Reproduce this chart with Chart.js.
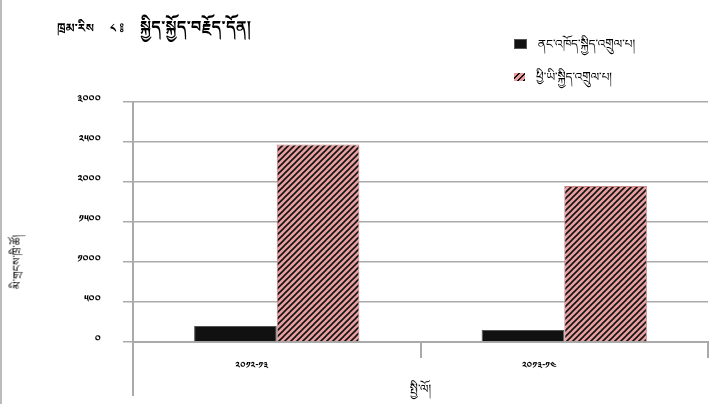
<!DOCTYPE html>
<html>
<head>
    <title>Tibetan Bar Chart</title>
    <style>
        body {
            margin: 0;
            background-color: white;
            font-family: "Noto Serif Tibetan", "Noto Sans Tibetan", "Jomolhari", "DejaVu Sans", "Noto Sans", sans-serif;
        }
        .wrap {
            position: relative;
            width: 726px;
            height: 404px;
            border-left: 2px solid #bbb;
            box-sizing: border-box;
        }
        .title {
            position: absolute;
            left: 55px;
            top: 9px;
            font-size: 16px;
            font-weight: bold;
            color: #000;
            white-space: nowrap;
        }
        .title .small { font-size: 12px; margin-right: 16px; }
        .legend {
            position: absolute;
            left: 512px;
            top: 30px;
            font-size: 12px;
            color: #000;
        }
        .legend div { height: 33px; white-space: nowrap; }
        .legend span.box {
            display: inline-block;
            width: 11px;
            height: 8px;
            margin-right: 11px;
            vertical-align: middle;
        }
        .ytitle {
            position: absolute;
            left: 18px;
            top: 262px;
            font-size: 11px;
            transform: translate(-50%, -50%) rotate(-90deg);
            white-space: nowrap;
        }
    </style>
    <script src="https://cdn.jsdelivr.net/npm/chart.js@4/dist/chart.umd.min.js"></script>
</head>
<body>
    <div class="wrap">
        <canvas id="chart" width="724" height="404"></canvas>
        <div class="title"><span class="small">ཁྲམ་རིས</span><span class="small">༨ ༔</span>སྐྱིད་སྐྱོད་བརྗོད་དོན།</div>
        <div class="legend" id="legend"></div>
        <div class="ytitle" id="ytitle"></div>
    </div>

    <script>
        // data
        const categories = ['༢༠༡༢-༡༣', '༢༠༡༣-༡༤'];
        const seriesNames = ['ནང་འཁོད་སྐྱིད་འགྲུལ་པ།', 'ཕྱི་ཡི་སྐྱིད་འགྲུལ་པ།'];
        const domestic = [200, 150];
        const foreign = [2470, 1950];
        const yTickLabels = ['༠', '༥༠༠', '༡༠༠༠', '༡༥༠༠', '༢༠༠༠', '༢༥༠༠', '༣༠༠༠'];
        const xTitle = 'སྤྱི་ལོ།';
        const yTitle = 'མི་གྲངས་ཁྲི་ཚོ།';

        const tibFont = '"Noto Serif Tibetan", "Noto Sans Tibetan", "Jomolhari", "DejaVu Sans", sans-serif';

        // pink with black diagonal stripes
        function makeHatch() {
            const s = 6;
            const c = document.createElement('canvas');
            c.width = s; c.height = s;
            const g = c.getContext('2d');
            g.fillStyle = '#e79e9e';
            g.fillRect(0, 0, s, s);
            g.strokeStyle = '#111';
            g.lineWidth = 1.6;
            g.beginPath();
            g.moveTo(0, s); g.lineTo(s, 0);
            g.moveTo(-1, 1); g.lineTo(1, -1);
            g.moveTo(s - 1, s + 1); g.lineTo(s + 1, s - 1);
            g.stroke();
            return document.getElementById('chart').getContext('2d').createPattern(c, 'repeat');
        }
        const hatch = makeHatch();

        // legend as html
        const legend = document.getElementById('legend');
        legend.innerHTML =
            '<div><span class="box" style="background:#111;border:1px solid #555"></span>' + seriesNames[0] + '</div>' +
            '<div><span class="box" style="background:repeating-linear-gradient(135deg,#e79e9e 0 3px,#111 3px 4.5px)"></span>' + seriesNames[1] + '</div>';
        document.getElementById('ytitle').textContent = yTitle;

        // y axis runs on below the x axis
        const axisTail = {
            id: 'axisTail',
            afterDraw(chart) {
                const ctx = chart.ctx;
                const a = chart.chartArea;
                ctx.save();
                ctx.strokeStyle = '#aaa';
                ctx.lineWidth = 2;
                ctx.beginPath();
                ctx.moveTo(a.left, a.bottom);
                ctx.lineTo(a.left, chart.height - 8);
                ctx.stroke();
                ctx.restore();
            }
        };

        new Chart(document.getElementById('chart'), {
            type: 'bar',
            data: {
                labels: categories,
                datasets: [
                    {
                        label: seriesNames[0],
                        data: domestic,
                        backgroundColor: '#111',
                        borderColor: '#555',
                        borderWidth: 1
                    },
                    {
                        label: seriesNames[1],
                        data: foreign,
                        backgroundColor: hatch,
                        borderColor: '#c98888',
                        borderWidth: 1
                    }
                ]
            },
            options: {
                responsive: false,
                animation: false,
                categoryPercentage: 0.575,
                barPercentage: 1,
                layout: { padding: { top: 102, right: 18, left: 0, bottom: 0 } },
                plugins: {
                    legend: { display: false },
                    tooltip: { enabled: false }
                },
                scales: {
                    x: {
                        afterFit(s) { s.height = 62; },
                        grid: {
                            display: true,
                            drawOnChartArea: false,
                            tickLength: 16,
                            color: '#aaa',
                            lineWidth: 2
                        },
                        border: { color: '#aaa', width: 2 },
                        ticks: {
                            color: '#000',
                            font: { family: tibFont, size: 9, weight: 'bold' },
                            padding: 4,
                            labelOffset: -25
                        },
                        title: {
                            display: true,
                            text: xTitle,
                            color: '#000',
                            font: { family: tibFont, size: 12 },
                            padding: { top: -4 }
                        }
                    },
                    y: {
                        min: 0,
                        max: 3000,
                        afterFit(s) { s.width = 131; },
                        ticks: {
                            stepSize: 500,
                            color: '#000',
                            font: { family: tibFont, size: 10, weight: 'bold' },
                            padding: 22,
                            callback: (v) => yTickLabels[v / 500]
                        },
                        grid: {
                            color: '#aaa',
                            lineWidth: 1.5,
                            tickLength: 10
                        },
                        border: { color: '#aaa', width: 2 }
                    }
                }
            },
            plugins: [axisTail]
        });
    </script>
</body>
</html>
